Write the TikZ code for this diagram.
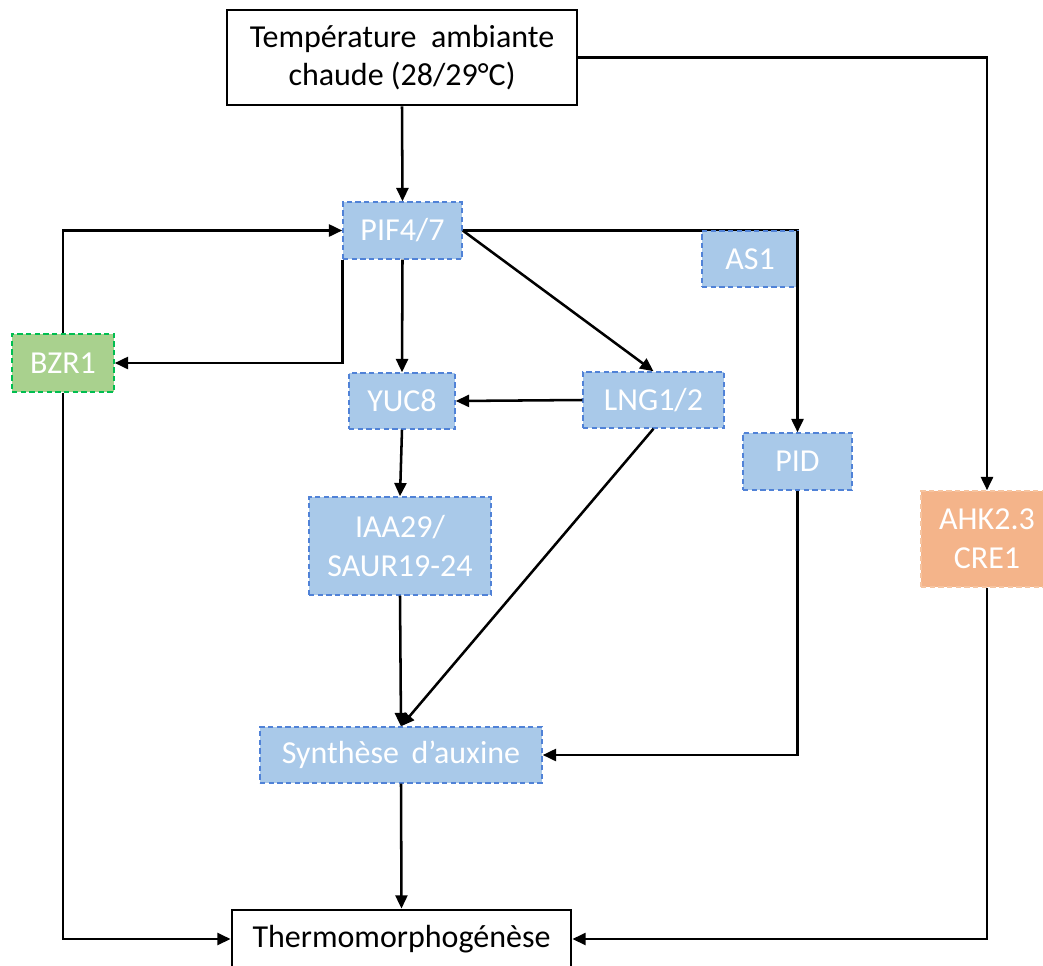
\documentclass[tikz,border=0pt]{standalone}
\usepackage{fontspec}
\setmainfont{Carlito}
\usetikzlibrary{arrows.meta}
\definecolor{bfill}{RGB}{169,201,233}
\definecolor{bdraw}{RGB}{80,130,215}
\definecolor{gfill}{RGB}{169,209,142}
\definecolor{gdraw}{RGB}{0,190,80}
\definecolor{ofill}{RGB}{244,180,138}
\definecolor{odraw}{RGB}{246,196,160}
\tikzset{
  px/.style={x=0.75pt,y=-0.75pt},
  base/.style={rectangle,inner sep=0pt,align=center,font=\fontsize{24}{29}\selectfont},
  blk/.style={base,draw=black,line width=2.1pt,fill=white,text=black},
  bbox/.style={base,fill=bfill,draw=bdraw,line width=1.1pt,dash pattern=on 4pt off 2.5pt,text=white},
  gbox/.style={base,fill=gfill,draw=gdraw,line width=1.1pt,dash pattern=on 4pt off 2.5pt,text=white},
  obox/.style={base,fill=ofill,draw=odraw,line width=1.1pt,dash pattern=on 4pt off 2.5pt,text=white},
  arr/.style={line width=1.9pt,-{Triangle[length=10pt,width=9pt]}},
  ln/.style={line width=1.9pt}
}
\begin{document}
\begin{tikzpicture}[px]
\useasboundingbox (0,0) rectangle (1043,965);
\clip (0,0) rectangle (1043,965);
\node[blk,minimum width=262.5pt,minimum height=71.25pt] (top) at (402,57.5) {Température \ ambiante\\chaude (28/29°C)};
\node[bbox,minimum width=89.25pt,minimum height=42.75pt] (pif) at (402.5,230.5) {PIF4/7};
\node[gbox,minimum width=76.5pt,minimum height=43.5pt] (bzr) at (63,363) {BZR1};
\node[bbox,minimum width=79.5pt,minimum height=42pt] (yuc) at (402,401) {YUC8};
\node[bbox,minimum width=105.75pt,minimum height=42pt] (lng) at (653.5,400) {LNG1/2};
\node[bbox,minimum width=81.75pt,minimum height=42.75pt] (pid) at (797.5,461.5) {PID};
\node[bbox,minimum width=136.5pt,minimum height=73.5pt] (iaa) at (400,546) {IAA29/\\SAUR19-24};
\node[obox,minimum width=99pt,minimum height=72pt] (ahk) at (987,539) {AHK2.3\\CRE1};
\node[bbox,minimum width=211.5pt,minimum height=42pt] (syn) at (401,755) {Synthèse \,d’auxine};
\node[blk,minimum width=254.25pt,minimum height=43.5pt] (thm) at (401.5,939) {Thermomorphogénèse};

\draw[arr] (top.south) -- (pif.north);
\draw[arr] (top.east) -| (ahk.north);
\draw[arr] (pif.east) -| (pid.north);
\node[bbox,minimum width=72pt,minimum height=42pt] (as1) at (750,259) {AS1};
\draw[ln] (pif.east -| pid.north) -- (pid.north |- as1.south);
\draw[arr] (pif.east) -- (lng.north);
\draw[arr] (pif.south) -- (yuc.north);
\draw[arr] (pif.south west) |- (bzr.east);
\draw[arr] (bzr.north) |- (pif.west);
\draw[arr] (bzr.south) |- (thm.west);
\draw[arr] (lng.west) -- (yuc.east);
\draw[arr] (lng.south) -- (syn.north);
\draw[arr] (yuc.south) -- (iaa.north);
\draw[arr] (iaa.south) -- (syn.north);
\draw[arr] (pid.south) |- (syn.east);
\draw[arr] (syn.south) -- (thm.north);
\draw[arr] (ahk.south) |- (thm.east);
\end{tikzpicture}
\end{document}
